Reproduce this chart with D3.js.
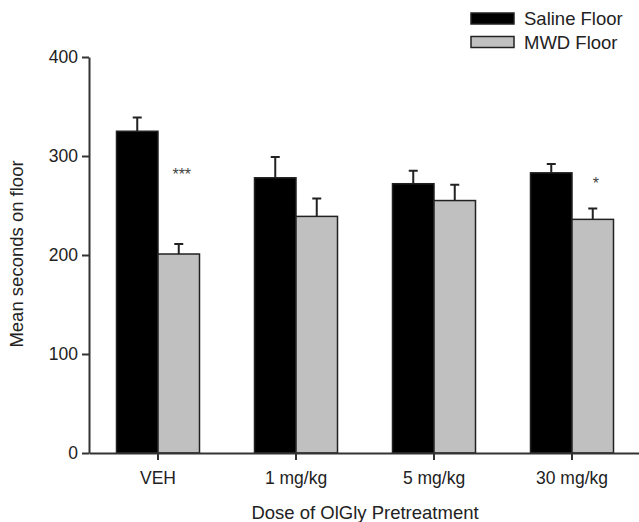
<!DOCTYPE html>
<html>
<head>
<meta charset="utf-8">
<script src="https://cdn.jsdelivr.net/npm/d3@7"></script>
<style>
  body { margin: 0; background: #fff; }
  svg { display: block; font-family: "Liberation Sans", Arial, sans-serif; }
</style>
</head>
<body>
<svg id="chart" width="639" height="522"></svg>
<script>
// data
var doses = ["VEH", "1 mg/kg", "5 mg/kg", "30 mg/kg"];
var series = ["Saline Floor", "MWD Floor"];
var salineMean = [325, 278, 272, 283];
var salineErr = [14, 21, 13, 9];
var mwdMean = [201, 239, 255, 236];
var mwdErr = [10, 18, 16, 11];
var stars = ["***", "", "", "*"];
var yTicks = [0, 100, 200, 300, 400];

var colors = ["#000000", "#c0c0c0"];
var axisColor = "#333";

var svg = d3.select("#chart");

var x = d3.scaleBand().domain(doses).range([89, 641]).padding(0);
var y = d3.scaleLinear().domain([0, 400]).range([453, 57]);
var barW = 41.5;

// y axis
var yAxis = svg.append("g")
	.attr("transform", "translate(89,0)")
	.call(d3.axisLeft(y).tickValues(yTicks).tickSize(7).tickPadding(4).tickSizeOuter(0));
yAxis.select(".domain").attr("stroke", axisColor).attr("stroke-width", 2);
yAxis.selectAll(".tick line").attr("stroke", axisColor).attr("stroke-width", 2);
yAxis.selectAll(".tick text").attr("font-size", 17.5).attr("fill", "#222").attr("font-family", "Liberation Sans, Arial, sans-serif");

// bars
var rows = doses.map(function (d, i) {
	return [
		{ dose: d, s: 0, v: salineMean[i], e: salineErr[i] },
		{ dose: d, s: 1, v: mwdMean[i], e: mwdErr[i] }
	];
});

var groups = svg.selectAll(".grp").data(rows).enter().append("g").attr("class", "grp");

groups.selectAll(".err").data(function (d) { return d; }).enter().append("path")
	.attr("class", "err")
	.attr("d", function (d) {
		var cx = x(d.dose) + x.bandwidth() / 2 + (d.s === 0 ? -barW / 2 : barW / 2);
		var top = y(d.v + d.e);
		return "M" + cx + "," + y(d.v) + "V" + top + "M" + (cx - 4.5) + "," + top + "H" + (cx + 4.5);
	})
	.attr("stroke", "#222")
	.attr("stroke-width", 2)
	.attr("fill", "none");

groups.selectAll(".bar").data(function (d) { return d; }).enter().append("rect")
	.attr("class", "bar")
	.attr("x", function (d) { return x(d.dose) + x.bandwidth() / 2 - (d.s === 0 ? barW : 0); })
	.attr("y", function (d) { return y(d.v); })
	.attr("width", barW)
	.attr("height", function (d) { return y(0) - y(d.v); })
	.attr("fill", function (d) { return colors[d.s]; })
	.attr("stroke", "#222")
	.attr("stroke-width", 1.5);

// x axis
var xAxis = svg.append("g")
	.attr("transform", "translate(0,453)")
	.call(d3.axisBottom(x).tickSize(7).tickPadding(12).tickSizeOuter(0));
xAxis.select(".domain").attr("stroke", axisColor).attr("stroke-width", 2);
xAxis.selectAll(".tick line").attr("stroke", axisColor).attr("stroke-width", 2);
xAxis.selectAll(".tick text").attr("font-size", 17.5).attr("fill", "#222").attr("font-family", "Liberation Sans, Arial, sans-serif");

// significance marks
svg.selectAll(".star").data(doses).enter().append("text")
	.attr("class", "star")
	.attr("x", function (d) { return x(d) + x.bandwidth() / 2 + barW / 2 + 3; })
	.attr("y", function (d, i) { return i === 0 ? 180 : 189; })
	.attr("text-anchor", "middle")
	.attr("font-size", 16)
	.attr("fill", "#444")
	.text(function (d, i) { return stars[i]; });

// axis titles
svg.append("text")
	.attr("x", 365).attr("y", 519)
	.attr("text-anchor", "middle")
	.attr("font-size", 18.5)
	.attr("fill", "#222")
	.text("Dose of OlGly Pretreatment");

svg.append("text")
	.attr("transform", "translate(23,254) rotate(-90)")
	.attr("text-anchor", "middle")
	.attr("font-size", 18.5)
	.attr("fill", "#222")
	.text("Mean seconds on floor");

// legend
var legend = svg.selectAll(".leg").data(series).enter().append("g")
	.attr("class", "leg")
	.attr("transform", function (d, i) { return "translate(471," + (13 + i * 23.5) + ")"; });
legend.append("rect")
	.attr("width", 43).attr("height", 11)
	.attr("fill", function (d, i) { return colors[i]; })
	.attr("stroke", "#222").attr("stroke-width", 1.5);
legend.append("text")
	.attr("x", 53).attr("y", 12)
	.attr("font-size", 18.5)
	.attr("fill", "#222")
	.text(function (d) { return d; });
</script>
</body>
</html>
